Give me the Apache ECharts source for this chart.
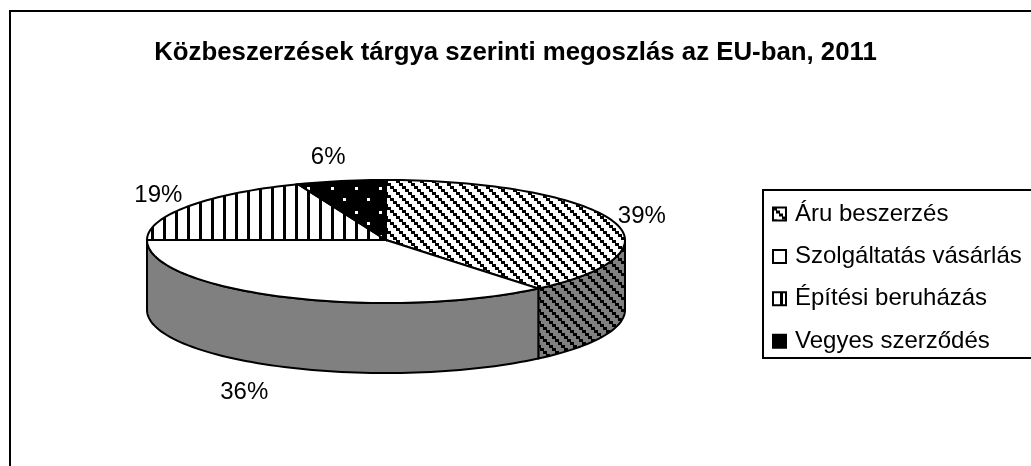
<!DOCTYPE html>
<html>
<head>
<meta charset="utf-8">
<title>Közbeszerzések</title>
<script src="https://cdn.jsdelivr.net/npm/echarts@6/dist/echarts.min.js"></script>
<style>
  html, body { margin: 0; padding: 0; background: #fff; overflow: hidden; }
  #chart { width: 1031px; height: 466px; }
</style>
</head>
<body>
<div id="chart"></div>
<script>
var titleText = 'Közbeszerzések tárgya szerinti megoszlás az EU-ban, 2011';
var categories = ['Áru beszerzés', 'Szolgáltatás vásárlás', 'Építési beruházás', 'Vegyes szerződés'];
var shares = [39, 36, 19, 6];

// hatching tiles, the chart uses old b/w office patterns
function tile(size, bg, paint) {
  var c = document.createElement('canvas');
  c.width = c.height = size;
  var ctx = c.getContext('2d');
  ctx.fillStyle = bg;
  ctx.fillRect(0, 0, size, size);
  ctx.fillStyle = '#000';
  paint(ctx);
  return { image: c, repeat: 'repeat' };
}
function diagonal(bg) {
  return tile(12, bg, function (ctx) {
    for (var i = 0; i < 4; i++) {
      ctx.fillRect(i * 3, i * 3, 3, 3);
      if (i === 3) ctx.fillRect(0, 9, 1, 3);
      else ctx.fillRect(i * 3 + 3, i * 3, 1, 3);
    }
  });
}
var stripes = tile(12, '#fff', function (ctx) { ctx.fillRect(7, 0, 3, 12); });
var dots = tile(24, '#000', function (ctx) {
  ctx.fillStyle = '#fff';
  ctx.fillRect(19, 19, 3, 3);
  ctx.fillRect(7, 6, 3, 3);
});

var topFills = [diagonal('#fff'), '#fff', stripes, dots];
var sideFills = [diagonal('#808080'), '#808080', stripes, dots];
var legendFills = [diagonal('#fff'), '#fff', stripes, '#000'];

// pie geometry, front half a bit deeper because of the 3d perspective
var cx = 386, cy = 240, rx = 239, ryBack = 60, ryFront = 63, depth = 70;
var labelFont = '24px "Liberation Sans", Arial, sans-serif';
// label offset from the rim point at the middle of each slice
var labelOffsets = [[31, -3], [-40, 95], [-30, -11], [-13, -24]];

function rim(pct, dy) {
  var a = pct / 100 * Math.PI * 2;
  var cos = Math.cos(a);
  return [cx + rx * Math.sin(a), cy - (cos > 0 ? ryBack : ryFront) * cos + (dy || 0)];
}
function arc(from, to, dy) {
  var pts = [];
  var n = Math.max(2, Math.ceil((to - from) * 2));
  for (var i = 0; i <= n; i++) {
    pts.push(rim(from + (to - from) * i / n, dy));
  }
  return pts;
}

function renderSlice(params, api) {
  var idx = params.seriesIndex;
  var start = api.value(0);
  var end = start + api.value(1);
  var children = [];
  var a = Math.max(start, 25), b = Math.min(end, 75);
  if (b > a) {
    children.push({
      type: 'polygon',
      shape: { points: arc(a, b, 0).concat(arc(a, b, depth).reverse()) },
      style: { fill: sideFills[idx], stroke: '#000', lineWidth: 2 }
    });
  }
  children.push({
    type: 'polygon',
    shape: { points: [[cx, cy]].concat(arc(start, end, 0)) },
    style: { fill: topFills[idx], stroke: '#000', lineWidth: 2 }
  });
  var mid = rim((start + end) / 2);
  children.push({
    type: 'text',
    style: {
      text: api.value(1) + '%',
      x: mid[0] + labelOffsets[idx][0],
      y: mid[1] + labelOffsets[idx][1],
      align: 'center',
      verticalAlign: 'middle',
      fill: '#000',
      font: labelFont
    }
  });
  return { type: 'group', children: children };
}

var running = 0;
var series = categories.map(function (name, i) {
  var s = {
    name: name,
    type: 'custom',
    coordinateSystem: 'none',
    renderItem: renderSlice,
    silent: true,
    data: [[running, shares[i]]]
  };
  running += shares[i];
  return s;
});

var chart = echarts.init(document.getElementById('chart'), null, { renderer: 'canvas' });
chart.setOption({
  animation: false,
  backgroundColor: '#fff',
  title: {
    text: titleText,
    left: 'center',
    top: 40,
    padding: 0,
    textStyle: { fontFamily: '"Liberation Sans", Arial, sans-serif', fontSize: 25.8, fontWeight: 'bold', color: '#000' }
  },
  graphic: [
    { type: 'rect', z: -1, silent: true, shape: { x: 10, y: 11, width: 1100, height: 520 }, style: { fill: '#fff', stroke: '#000', lineWidth: 2 } },
    { type: 'rect', z: -1, silent: true, shape: { x: 763, y: 190, width: 300, height: 168 }, style: { fill: '#fff', stroke: '#000', lineWidth: 2 } }
  ],
  legend: {
    orient: 'vertical',
    left: 772,
    top: 202,
    padding: 0,
    itemWidth: 13,
    itemHeight: 13,
    itemGap: 18.4,
    textStyle: { fontFamily: '"Liberation Sans", Arial, sans-serif', fontSize: 24, color: '#000', padding: [0, 0, 0, 4] },
    selectedMode: false,
    data: categories.map(function (name, i) {
      return {
        name: name,
        icon: 'rect',
        itemStyle: { color: legendFills[i], borderColor: '#000', borderWidth: 2, decal: 'none' }
      };
    })
  },
  series: series
});
</script>
</body>
</html>
